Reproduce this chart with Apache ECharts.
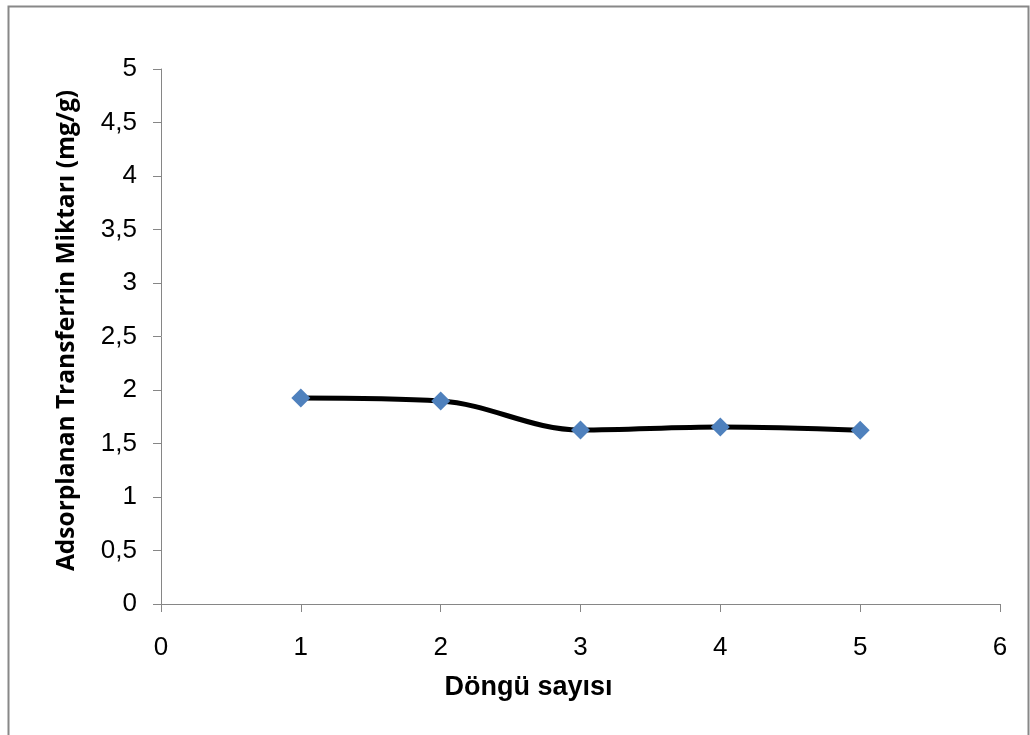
<!DOCTYPE html>
<html>
<head>
<meta charset="utf-8">
<script src="https://cdn.jsdelivr.net/npm/echarts@6/dist/echarts.min.js"></script>
<style>
html,body{margin:0;padding:0;background:#fff;}
#chart{width:1030px;height:735px;}
</style>
</head>
<body>
<div id="chart"></div>
<script>
const cycles = [1, 2, 3, 4, 5];
const amounts = [1.925, 1.897, 1.626, 1.654, 1.624];
const xTitle = 'Döngü sayısı';
const yTitle = 'Adsorplanan Transferrin Miktarı (mg/g)';

const chart = echarts.init(document.getElementById('chart'));
const axisColor = '#868686';
const labelFont = {fontFamily: 'Liberation Sans, Arial, sans-serif', fontSize: 26, color: '#000'};
chart.setOption({
  animation: false,
  graphic: [{
    type: 'rect', left: 6, top: 4,
    shape: {width: 1020, height: 740},
    style: {fill: 'none', stroke: '#888', lineWidth: 2}
  }],
  grid: {left: 161, right: 30, top: 69, bottom: 131},
  xAxis: {
    type: 'value', min: 0, max: 6, interval: 1,
    axisLine: {lineStyle: {color: axisColor, width: 1}},
    axisTick: {show: true, length: 8, lineStyle: {color: axisColor}},
    axisLabel: Object.assign({margin: 31, formatter: v => String(v)}, labelFont),
    splitLine: {show: false},
    name: xTitle, nameLocation: 'middle', nameGap: 70,
    nameTextStyle: {fontFamily: 'Liberation Sans, Arial, sans-serif', fontWeight: 'bold', fontSize: 27, color: '#000', padding: [0, 104, 0, 0]}
  },
  yAxis: {
    type: 'value', min: 0, max: 5, interval: 0.5,
    axisLine: {show: true, lineStyle: {color: axisColor, width: 1}},
    axisTick: {show: true, length: 8, lineStyle: {color: axisColor}},
    axisLabel: Object.assign({margin: 24, formatter: v => String(v).replace('.', ',')}, labelFont),
    splitLine: {show: false},
    name: yTitle, nameLocation: 'middle', nameGap: 81, nameRotate: 90,
    nameTextStyle: {fontFamily: 'Open Sans, Liberation Sans, Arial, sans-serif', fontWeight: 'bold', fontSize: 24.5, color: '#000', padding: [0, 0, 0, 12]}
  },
  series: [{
    type: 'line',
    data: cycles.map((c, i) => [c, amounts[i]]),
    smooth: 0.35,
    lineStyle: {color: '#000', width: 5},
    symbol: 'diamond', symbolSize: 19,
    itemStyle: {color: '#4F81BD', borderWidth: 0}
  }]
});
</script>
</body>
</html>
